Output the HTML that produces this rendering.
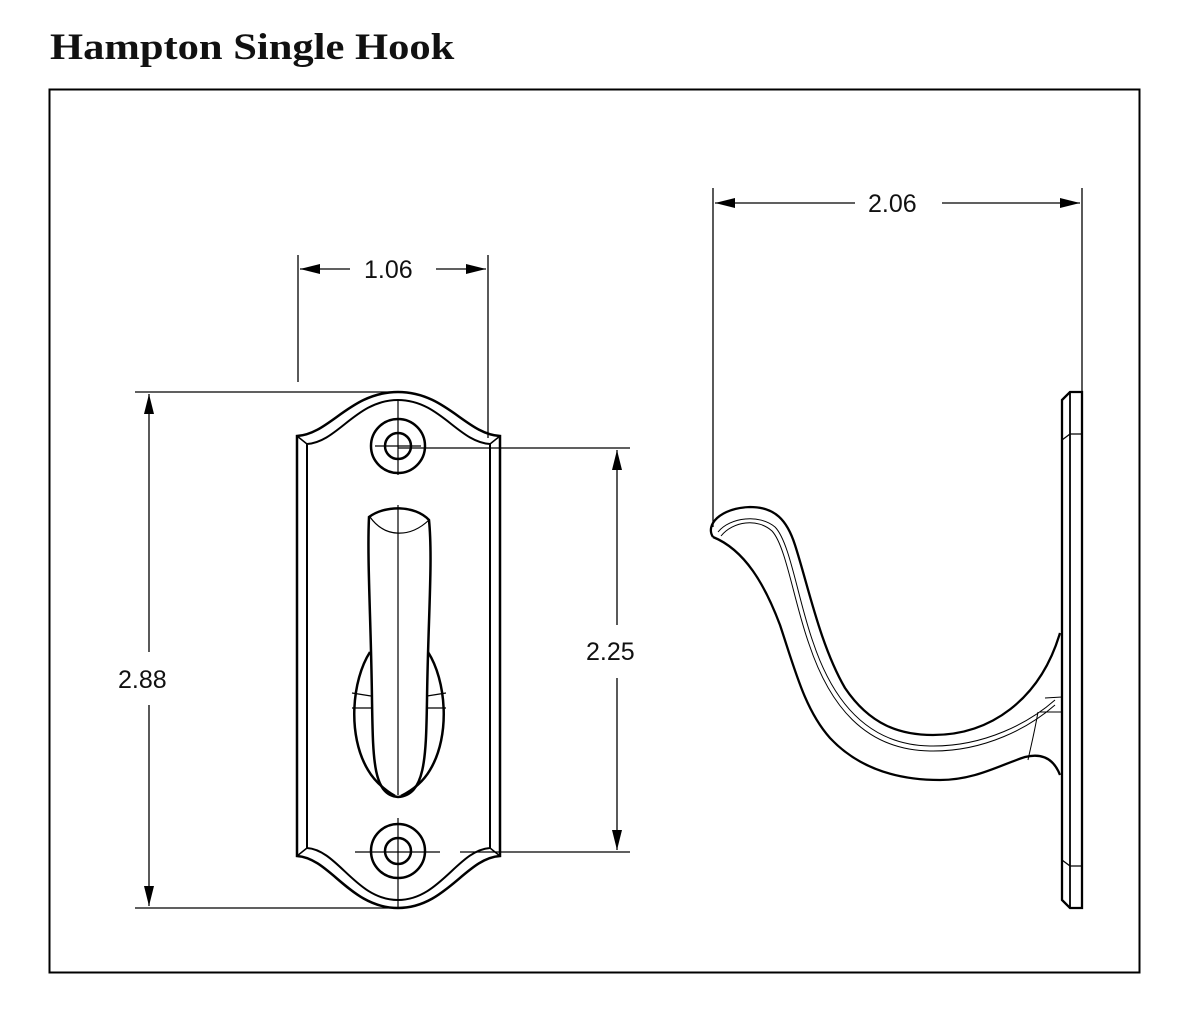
<!DOCTYPE html>
<html><head><style>
html,body{margin:0;padding:0;background:#fff;}
body{width:1200px;height:1032px;position:relative;overflow:hidden;}
h1{position:absolute;left:50px;top:26px;margin:0;font:bold 37px "Liberation Serif",serif;color:#111;transform:scaleX(1.15);transform-origin:0 0;white-space:nowrap;}
svg{position:absolute;left:0;top:0;}
text{font-family:"Liberation Sans",sans-serif;font-size:25px;fill:#111;}
</style></head><body>
<h1>Hampton Single Hook</h1>
<svg width="1200" height="1032" viewBox="0 0 1200 1032">
<defs><marker id="a" viewBox="0 0 20 10" refX="20" refY="5" markerWidth="30" markerHeight="10" markerUnits="userSpaceOnUse" orient="auto"><path d="M0,0L20,5L0,10z" fill="#000"/></marker></defs>
<rect x="49.5" y="89.5" width="1090" height="883" fill="none" stroke="#000" stroke-width="2"/>
<g stroke="#000" stroke-width="1.3" fill="none">
<line x1="298" y1="255" x2="298" y2="382"/><line x1="488" y1="255" x2="488" y2="438"/>
<line x1="350" y1="269" x2="300" y2="269" marker-end="url(#a)"/><line x1="436" y1="269" x2="486" y2="269" marker-end="url(#a)"/>
<line x1="713" y1="188" x2="713" y2="527"/><line x1="1082" y1="188" x2="1082" y2="392"/>
<line x1="855" y1="203" x2="715" y2="203" marker-end="url(#a)"/><line x1="942" y1="203" x2="1080" y2="203" marker-end="url(#a)"/>
<line x1="135" y1="392" x2="398" y2="392"/><line x1="135" y1="908" x2="398" y2="908"/>
<line x1="149" y1="652" x2="149" y2="394" marker-end="url(#a)"/><line x1="149" y1="705" x2="149" y2="906" marker-end="url(#a)"/>
<line x1="398" y1="448" x2="630" y2="448"/><line x1="355" y1="852" x2="440" y2="852"/><line x1="460" y1="852" x2="630" y2="852"/>
<line x1="617" y1="625" x2="617" y2="450" marker-end="url(#a)"/><line x1="617" y1="678" x2="617" y2="850" marker-end="url(#a)"/>
</g>
<text x="364" y="278">1.06</text>
<text x="868" y="212">2.06</text>
<text x="118" y="688">2.88</text>
<text x="586" y="660">2.25</text>
<g stroke="#000" stroke-width="2.5" fill="none">
<path d="M297,436 C330,434 350,392 398,392 C446,392 466,434 500,436 L500,856 C466,858 446,908 398,908 C350,908 330,858 297,856 Z"/>
<path d="M307,444 C338,442 356,400 398,400 C440,400 458,442 490,444 L490,848 C458,850 440,900 398,900 C356,900 338,850 307,848 Z" stroke-width="2"/>
<line x1="297" y1="436" x2="307" y2="444" stroke-width="1.5"/><line x1="500" y1="436" x2="490" y2="444" stroke-width="1.5"/>
<line x1="297" y1="856" x2="307" y2="848" stroke-width="1.5"/><line x1="500" y1="856" x2="490" y2="848" stroke-width="1.5"/>
<circle cx="398" cy="446" r="27"/><circle cx="398" cy="446" r="13"/>
<circle cx="398" cy="851" r="27"/><circle cx="398" cy="851" r="13"/>
<path d="M369,517 C385,505 415,505 429,520 C433,560 428,620 427,700 C426,760 425,795 398,797 C373,795 373,760 372,700 C371,620 367,560 369,517 Z"/>
<path d="M370,652 C352,680 347,735 368,770 C375,782 385,790 395,796"/>
<path d="M428,652 C446,680 451,735 430,770 C423,782 413,790 401,796"/>
<path d="M370,517 C385,538 410,538 429,520" stroke-width="1.2"/>
</g>
<g stroke="#000" stroke-width="1.2" fill="none">
<line x1="398" y1="400" x2="398" y2="475"/><line x1="375" y1="446" x2="421" y2="446"/>
<line x1="398" y1="505" x2="398" y2="795"/>
<line x1="398" y1="818" x2="398" y2="908"/>
<path d="M352,693 L371,696 M352,708 L371,708 M427,696 L446,693 M427,708 L446,708"/>
</g>
<g stroke="#000" stroke-width="2.3" fill="none">
<path d="M1062,400 L1070,392 L1082,392 L1082,908 L1070,908 L1062,900 Z"/>
<line x1="1070" y1="392" x2="1070" y2="908" stroke-width="1.8"/>
<path d="M1062,440 L1070,434 L1082,434 M1062,860 L1070,866 L1082,866" stroke-width="1.3"/>
<path d="M713,537 C705,525 720,508 750,507 C775,507 787,520 795,545 C808,585 820,645 845,688 C870,725 900,735 933,735 C990,735 1040,700 1060,633"/>
<path d="M713,537 C745,550 765,585 780,625 C795,670 805,710 830,738 C860,770 900,780 940,780 C975,780 1000,765 1025,757 C1045,752 1055,762 1060,775"/>
</g>
<g stroke="#000" stroke-width="1" fill="none">
<path d="M718,532 C730,517 760,514 775,527 C790,542 798,600 813,642 C833,702 868,745 930,746 C985,747 1030,722 1055,700"/>
<path d="M721,536 C733,521 758,518 772,531 C786,546 794,602 809,644 C829,704 864,750 930,751 C985,752 1030,727 1055,705"/>
<path d="M1045,698 L1062,697 M1040,712 L1062,712 M1038,712 C1034,735 1030,750 1028,760"/>
</g>
</svg>
</body></html>
